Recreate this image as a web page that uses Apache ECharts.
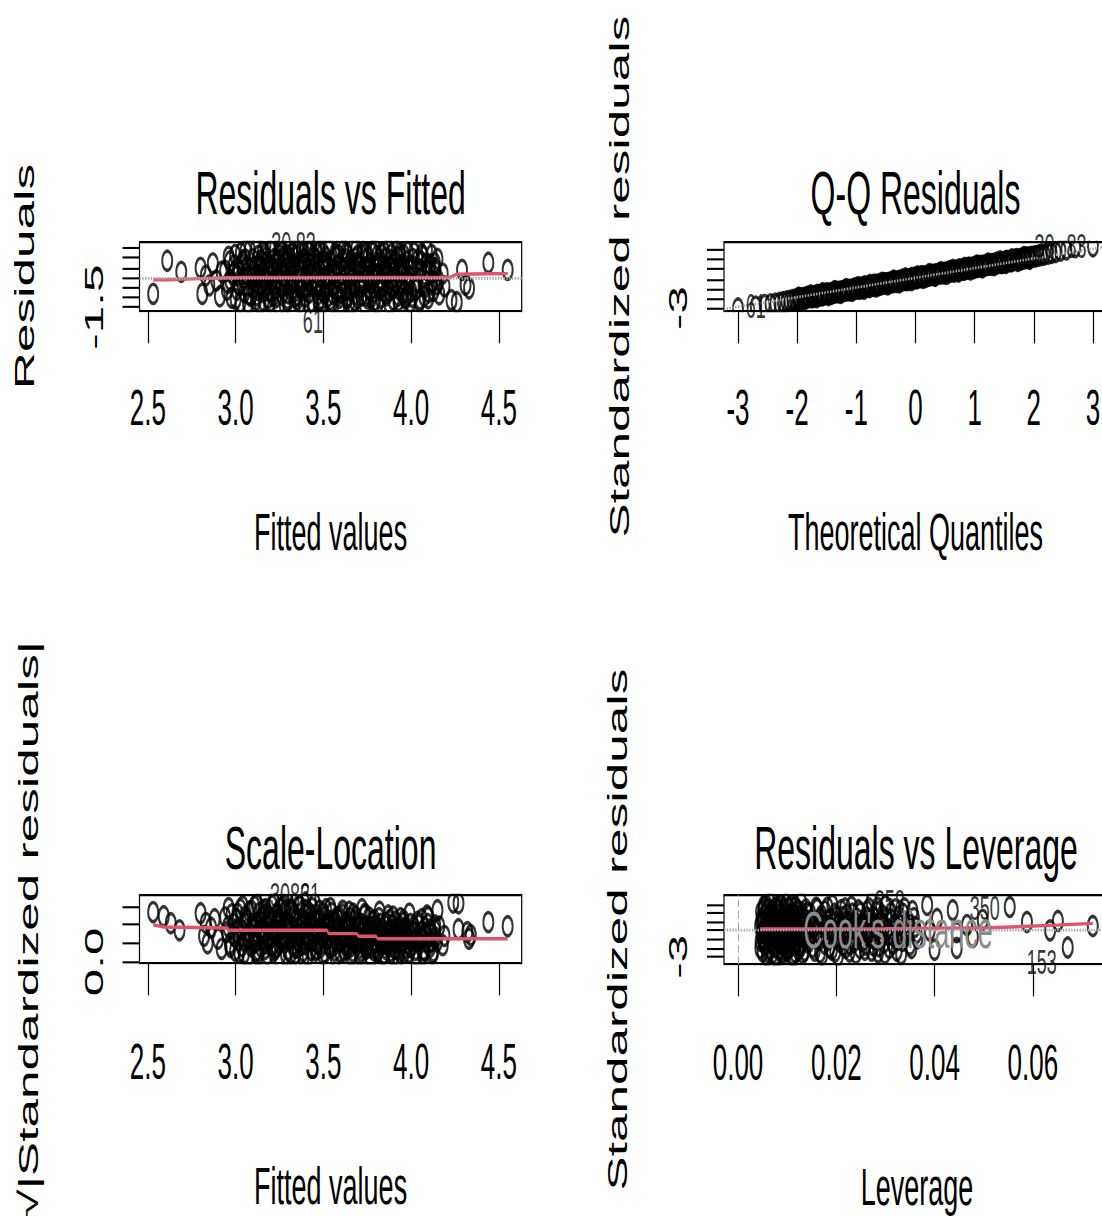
<!DOCTYPE html>
<html><head><meta charset="utf-8">
<script src="https://cdn.jsdelivr.net/npm/echarts@6/dist/echarts.min.js"></script>
<style>
html,body{margin:0;padding:0;background:#fff;width:1102px;height:1216px}
#wrap{position:relative;width:1102px;height:1216px;overflow:hidden;background:#fff}
#c{position:absolute;left:0;top:0;width:1102px;height:640px;transform:scaleY(1.9);transform-origin:0 0}
</style>
</head><body><div id="wrap"><div id="c"></div></div>
<script>
// ---------- data ----------
const fittedTicks = [2.5, 3.0, 3.5, 4.0, 4.5];
const residTicks = [-1.5, -1, -0.5, 0, 0.5, 1, 1.5];
const residTickLabels = [-1.5];
const quantTicks = [-3, -2, -1, 0, 1, 2, 3];
const stdTicks = [-3, -2, -1, 0, 1, 2, 3];
const stdTickLabels = [-3];
const sqrtTicks = [0, 0.5, 1, 1.5];
const sqrtTickLabels = [0];
const levTicks = [0, 0.02, 0.04, 0.06];

const panelTitles = ['Residuals vs Fitted', 'Q-Q Residuals', 'Scale-Location', 'Residuals vs Leverage'];
const xNames = ['Fitted values', 'Theoretical Quantiles', 'Fitted values', 'Leverage'];
const yNames = ['Residuals', 'Standardized residuals', '\u221A|Standardized residuals|', 'Standardized residuals'];

// Residuals vs Fitted: [fitted, residual]
const residVsFitted = [
[2.53,-0.83],[2.61,0.85],[2.69,0.29],[2.80,0.49],[2.81,-0.83],[2.83,0.10],[2.85,-0.40],[2.87,0.72],[2.89,-0.15],[2.91,-0.95],[2.92,0.30],
[2.94,0.35],[2.95,-0.62],[2.96,1.05],[2.97,-0.15],[2.99,0.62],[3.00,-1.10],[3.01,0.10],[3.02,-0.40],[3.03,1.25],[3.04,0.85],[3.05,-0.75],[3.06,0.20],[3.07,-1.30],[3.08,1.40],[3.09,-0.05],[3.10,-0.55],[3.11,0.55],[3.12,-0.90],[3.13,1.10],[3.14,0.00],[3.15,-0.30],[3.16,-1.20],[3.17,0.75],[3.18,0.30],[3.19,-0.68],[3.20,1.35],[3.21,-0.15],[3.22,0.95],[3.23,-1.00],[3.24,0.45],[3.25,1.52],[3.26,-0.45],[3.27,0.15],[3.28,-1.40],[3.29,1.15],[3.30,-0.80],[3.31,0.60],[3.32,0.05],[3.33,-0.25],[3.34,1.45],[3.35,-1.15],[3.36,0.80],[3.37,0.35],[3.38,-0.60],[3.39,1.25],[3.40,-0.05],[3.41,0.50],[3.42,-1.35],[3.43,1.60],[3.44,-0.30],[3.45,0.95],[3.46,0.20],[3.47,-0.85],[3.48,1.40],[3.49,-1.10],[3.50,0.65],[3.51,0.00],[3.52,-0.50],[3.53,1.65],[3.54,-0.20],[3.55,-1.25],[3.56,0.40],[3.57,1.05],[3.58,-0.70],[3.59,-1.45],[3.60,0.15],[3.61,0.85],[3.62,-0.35],[3.63,1.30],[3.64,-0.95],[3.65,0.55],[3.66,-0.10],[3.67,1.50],[3.68,-1.20],[3.69,0.75],[3.70,0.25],[3.71,-0.55],[3.72,1.15],[3.73,-0.15],[3.74,0.95],[3.75,-1.05],[3.76,0.40],[3.77,-0.30],[3.78,1.35],[3.79,-0.75],[3.80,0.10],[3.81,-1.30],[3.82,0.70],[3.83,1.20],[3.84,-0.45],[3.85,0.30],[3.86,-0.90],[3.87,1.45],[3.88,0.55],[3.89,-0.10],[3.90,-1.15],[3.91,0.85],[3.92,0.20],[3.93,-0.60],[3.94,1.10],[3.95,-0.35],[3.96,0.60],[3.97,-1.00],[3.98,1.30],[3.99,0.05],[4.00,-0.70],[4.01,0.95],[4.03,-0.25],[4.04,0.45],[4.05,-1.10],[4.06,1.20],[4.07,-0.40],[4.08,0.15],[4.09,1.40],[4.10,-0.75],[4.11,0.65],[4.12,-0.20],[4.14,0.30],[4.15,0.95],[4.16,-0.85],[4.18,0.20],[4.19,-0.45],
[4.23,-1.15],[4.26,-1.25],[4.29,0.39],[4.31,-0.37],[4.33,-0.55],[4.44,0.75],[4.55,0.39],
[3.17,1.70],[3.31,1.72]
];
const residVsFittedCore = [
[3.105,0.32],[3.125,-0.62],[3.145,0.88],[3.165,-0.05],[3.185,-1.05],[3.205,0.58],[3.225,-0.32],[3.245,1.18],[3.265,-0.88],[3.285,0.42],[3.305,1.02],[3.325,-0.58],[3.345,0.22],[3.365,-1.28],[3.385,0.92],[3.405,-0.42],[3.425,0.68],[3.445,-0.12],[3.465,1.22],[3.485,-0.62],[3.505,0.38],[3.525,-0.98],[3.545,0.82],[3.565,-0.38],[3.585,1.12],[3.605,-0.78],[3.625,0.48],[3.645,0.02],[3.665,-1.32],[3.685,0.98],[3.705,-0.48],[3.725,0.28],[3.745,-0.88],[3.765,0.72],[3.785,-0.08],[3.805,1.08],[3.825,-0.62],[3.845,0.42],[3.865,-0.28],[3.885,0.88],[3.905,0.32],[3.925,-0.92],[3.945,0.62],[3.965,-0.18],
[3.015,0.48],[3.035,-0.22],[3.055,0.92],[3.075,-0.85],[3.095,0.12],[3.115,-1.15],[3.135,0.62],[3.155,1.32],[3.175,-0.48],[3.195,0.05],[3.215,-0.95],[3.235,0.78],[3.255,-0.18],[3.275,1.05],[3.295,-1.22],[3.315,0.35],[3.335,-0.72],[3.355,1.48],[3.375,-0.02],[3.395,-0.98],[3.415,1.32],[3.435,0.25],[3.455,-0.55],[3.475,0.72],[3.495,-1.38],[3.515,1.02],[3.535,0.12],[3.555,-0.82],[3.575,0.58],[3.595,-0.25],[3.615,1.42],[3.635,-1.05],[3.655,0.32],[3.675,-0.45],[3.695,1.12],[3.715,-0.92],[3.735,0.52],[3.755,-0.05],[3.775,1.28],[3.795,-1.18],[3.815,0.22],[3.835,-0.35],[3.855,0.98],[3.875,-0.68],[3.895,0.45],[3.915,-0.25],[3.935,1.25],[3.955,-0.82],[3.975,0.15],[3.995,-1.25],[4.015,0.55],[4.035,-0.55],[4.055,0.82],[4.075,-0.95],[4.095,0.35],[4.115,-0.35],[4.135,0.72],[4.155,-0.15],
[3.112,0.05],[3.142,-0.42],[3.172,1.02],[3.202,-0.72],[3.232,0.22],[3.262,0.62],[3.292,-0.35],[3.322,1.22],[3.352,-0.92],[3.382,0.48],[3.412,-0.22],[3.442,1.08],[3.472,-1.18],[3.502,0.85],[3.532,-0.45],[3.562,0.18],[3.592,-1.02],[3.622,0.95],[3.652,-0.62],[3.682,0.42],[3.712,-0.28],[3.742,1.22],[3.772,-1.02],[3.802,0.58],[3.832,-0.12],[3.862,0.32],[3.892,-0.48],[3.922,1.02],[3.952,0.28],[3.982,-0.85],
[2.957,-0.28],[2.967,0.82],[2.977,-1.02],[2.987,0.18],[2.997,1.15],[3.007,-0.62],[3.017,0.32],[3.027,-1.25],[3.037,0.68],[3.047,-0.05],[3.057,1.38],[3.067,-0.42],[3.077,0.45],[3.087,-0.95],[3.097,0.95],[3.107,-0.28],[3.117,1.48],[3.127,0.12],[3.137,-1.35],[3.147,0.55],[3.157,-0.72],[3.167,1.18],[3.177,-0.12],[3.187,0.65],[3.197,-1.22],[3.207,1.55],[3.217,0.38],[3.227,-0.62],[3.237,0.92],[3.247,-1.42],[3.257,0.28],[3.267,1.32],[3.277,-0.38],[3.287,0.78],[3.297,-1.08],[3.307,1.58],[3.317,-0.15],[3.327,0.58],[3.337,-0.98],[3.347,1.12],[3.357,0.42],[3.367,-0.52],[3.377,1.52],[3.387,-1.45],[3.397,0.72],[3.407,0.15],[3.417,-0.78],[3.427,1.35],[3.437,-1.25],[3.447,0.48],[3.457,1.58],[3.467,-0.42],[3.477,0.05],[3.487,-1.38],[3.497,1.28],[3.507,-0.82],[3.517,0.55],[3.527,1.48],[3.537,-1.15],[3.547,0.25],[3.557,-0.38],[3.567,1.22],[3.577,-0.92],[3.587,0.62],[3.597,1.52],[3.607,-1.40],[3.617,0.35],[3.627,-0.62],[3.637,1.18],[3.647,-1.28],[3.657,0.85],[3.667,0.15],[3.677,-0.85],[3.687,1.45],[3.697,-1.05],[3.707,0.62],[3.717,-0.25],[3.727,1.32],[3.737,-1.38],[3.747,0.45],[3.757,1.02],[3.767,-0.68],[3.777,0.08],[3.787,-1.22],[3.797,1.40],[3.807,-0.42],[3.817,0.95],[3.827,-1.02],[3.837,0.58],[3.847,1.28],[3.857,-0.78],[3.867,0.12],[3.877,-1.35],[3.887,1.18],[3.897,-0.55],[3.907,0.72],[3.917,1.35],[3.927,-1.18],[3.937,0.38],[3.947,-0.48],[3.957,1.15],[3.967,-1.08],[3.977,0.82],[3.987,-0.22],[3.997,0.55],[4.007,-0.98],[4.017,1.25],[4.027,-0.62],[4.037,0.88],[4.047,-1.22],[4.057,0.38],[4.067,1.08],[4.077,-0.52],[4.087,0.72],[4.097,-1.05],[4.107,0.25],[4.117,1.15],[4.127,-0.68],[4.137,0.48],[4.147,-0.35]
];
const residSmooth = [[2.53,-0.12],[2.62,-0.11],[2.75,-0.07],[2.90,-0.02],[3.05,0.0],[3.50,0.0],[4.00,0.0],[4.22,0.0],[4.26,0.17],[4.44,0.19],[4.55,0.20]];
const residIds = [['30',3.26,1.71],['83',3.40,1.72],['61',3.44,-2.20]];

// Normal Q-Q: [theoretical quantile, standardized residual]
const qqPoints = [
[-3.00,-3.05],[-2.70,-2.85],[-2.55,-2.70],[-2.45,-2.62],[-2.37,-2.55],[-2.30,-2.48],[-2.24,-2.40],[-2.18,-2.33],[-2.13,-2.27],[-2.08,-2.20],[-2.04,-2.15],
[-2.00,-2.10],[-1.96,-2.06],[-1.92,-2.02],[-1.88,-1.97],[-1.84,-1.92],[-1.80,-1.89],[-1.76,-1.84],[-1.72,-1.79],[-1.68,-1.76],[-1.64,-1.70],[-1.60,-1.66],[-1.56,-1.63],[-1.52,-1.57],[-1.48,-1.53],[-1.44,-1.49],[-1.40,-1.44],[-1.36,-1.40],[-1.32,-1.36],[-1.28,-1.31],[-1.24,-1.26],[-1.20,-1.23],[-1.16,-1.18],[-1.12,-1.13],[-1.08,-1.10],[-1.04,-1.04],[-1.00,-1.00],[-0.96,-0.97],[-0.92,-0.91],[-0.88,-0.87],[-0.84,-0.83],[-0.80,-0.78],[-0.76,-0.74],[-0.72,-0.70],[-0.68,-0.65],[-0.64,-0.60],[-0.60,-0.57],[-0.56,-0.52],[-0.52,-0.47],[-0.48,-0.44],[-0.44,-0.38],[-0.40,-0.34],[-0.36,-0.31],[-0.32,-0.25],[-0.28,-0.21],[-0.24,-0.17],[-0.20,-0.12],[-0.16,-0.08],[-0.12,-0.04],[-0.08,0.01],[-0.04,0.06],[0.00,0.10],[0.04,0.14],[0.08,0.18],[0.12,0.23],[0.16,0.28],[0.20,0.31],[0.24,0.36],[0.28,0.41],[0.32,0.44],[0.36,0.50],[0.40,0.54],[0.44,0.57],[0.48,0.63],[0.52,0.67],[0.56,0.71],[0.60,0.76],[0.64,0.81],[0.68,0.85],[0.72,0.88],[0.76,0.94],[0.80,0.98],[0.84,1.02],[0.88,1.06],[0.92,1.11],[0.96,1.16],[1.00,1.20],[1.04,1.23],[1.08,1.29],[1.12,1.33],[1.16,1.37],[1.20,1.42],[1.24,1.47],[1.28,1.51],[1.32,1.54],[1.36,1.60],[1.40,1.64],[1.44,1.67],[1.48,1.73],[1.52,1.78],[1.56,1.82],[1.60,1.85],[1.64,1.90],[1.68,1.96],[1.72,1.99],[1.76,2.04],[1.80,2.09],[1.84,2.12],[1.88,2.17],[1.92,2.22],[1.96,2.26],[2.00,2.30],
[2.04,2.35],[2.08,2.40],[2.13,2.46],[2.18,2.52],[2.24,2.60],[2.30,2.68],[2.37,2.78],[2.45,2.92],[2.55,3.05],[2.70,3.28],[3.00,3.36]
];
const qqPointsCore = [
[-1.98,-2.02],[-1.90,-2.06],[-1.82,-1.84],[-1.74,-1.89],[-1.66,-1.66],[-1.58,-1.70],[-1.50,-1.49],[-1.42,-1.53],[-1.34,-1.31],[-1.26,-1.36],[-1.18,-1.13],[-1.10,-1.18],[-1.02,-0.97],[-0.94,-1.00],[-0.86,-0.78],[-0.78,-0.83],[-0.70,-0.60],[-0.62,-0.65],[-0.54,-0.44],[-0.46,-0.47],[-0.38,-0.25],[-0.30,-0.31],[-0.22,-0.08],[-0.14,-0.12],[-0.06,0.10],[0.02,0.06],[0.10,0.28],[0.18,0.23],[0.26,0.44],[0.34,0.41],[0.42,0.63],[0.50,0.57],[0.58,0.81],[0.66,0.76],[0.74,0.98],[0.82,0.94],[0.90,1.16],[0.98,1.11],[1.06,1.33],[1.14,1.29],[1.22,1.51],[1.30,1.47],[1.38,1.67],[1.46,1.64],[1.54,1.85],[1.62,1.82],[1.70,2.04],[1.78,1.99],[1.86,2.22],[1.94,2.17],
[-1.97,-1.93],[-1.87,-2.08],[-1.77,-1.70],[-1.67,-1.88],[-1.57,-1.48],[-1.47,-1.66],[-1.37,-1.27],[-1.27,-1.44],[-1.17,-1.05],[-1.07,-1.22],[-0.97,-0.84],[-0.87,-1.00],[-0.77,-0.62],[-0.67,-0.78],[-0.57,-0.40],[-0.47,-0.56],[-0.37,-0.18],[-0.27,-0.34],[-0.17,0.04],[-0.07,-0.12],[0.03,0.26],[0.13,0.10],[0.23,0.48],[0.33,0.32],[0.43,0.70],[0.53,0.54],[0.63,0.92],[0.73,0.76],[0.83,1.14],[0.93,0.98],[1.03,1.36],[1.13,1.20],[1.23,1.58],[1.33,1.42],[1.43,1.80],[1.53,1.64],[1.63,2.02],[1.73,1.86],[1.83,2.24],[1.93,2.08]
];
const qqRefLine = [[-3.237,-3.12],[3.237,3.35]];
const qqIds = [['61',-2.70,-2.77],['30',2.18,3.34],['83',2.72,3.34]];

// Scale-Location: [fitted, sqrt(|standardized residual|)]
const scaleLoc = [
[2.53,1.34],[2.59,1.23],[2.63,1.04],[2.68,0.85],[2.80,1.31],[2.82,0.70],[2.83,1.05],[2.84,0.50],[2.86,0.92],[2.88,1.15],[2.90,0.62],[2.92,0.35],
[2.94,1.20],[2.95,0.80],[2.96,1.45],[2.97,0.40],[2.99,1.02],[3.00,0.65],[3.01,1.30],[3.02,0.25],[3.03,0.90],[3.04,1.50],[3.05,0.55],[3.06,1.12],[3.07,0.15],[3.08,0.78],[3.09,1.38],[3.10,0.48],[3.11,0.98],[3.12,1.55],[3.13,0.30],[3.14,0.85],[3.15,1.20],[3.16,0.60],[3.17,1.42],[3.18,0.20],[3.19,0.95],[3.20,1.10],[3.21,0.42],[3.22,1.60],[3.23,0.72],[3.24,1.28],[3.25,0.10],[3.26,0.88],[3.27,1.48],[3.28,0.52],[3.29,1.05],[3.30,0.32],[3.31,1.35],[3.32,0.68],[3.33,1.18],[3.34,0.22],[3.35,0.92],[3.36,1.52],[3.37,0.45],[3.38,1.08],[3.39,0.75],[3.40,1.40],[3.41,0.15],[3.42,0.98],[3.43,1.25],[3.44,0.58],[3.45,1.58],[3.46,0.35],[3.47,0.85],[3.48,1.15],[3.49,0.50],[3.50,1.32],[3.51,0.25],[3.52,0.95],[3.53,0.70],[3.54,1.45],[3.55,0.40],[3.56,1.02],[3.57,0.12],[3.58,0.82],[3.59,1.22],[3.60,0.55],[3.61,1.38],[3.62,0.30],[3.63,0.90],[3.64,1.10],[3.65,0.62],[3.66,0.18],[3.67,1.30],[3.68,0.78],[3.69,0.45],[3.70,1.05],[3.71,0.28],[3.72,1.42],[3.73,0.65],[3.74,0.95],[3.75,0.38],[3.76,1.20],[3.77,0.10],[3.78,0.80],[3.79,1.12],[3.80,0.52],[3.81,0.30],[3.82,1.35],[3.83,0.70],[3.84,0.20],[3.85,0.98],[3.86,0.58],[3.87,1.25],[3.88,0.42],[3.89,0.85],[3.90,0.15],[3.91,1.08],[3.92,0.62],[3.93,0.35],[3.94,1.18],[3.95,0.75],[3.96,0.25],[3.97,0.92],[3.98,0.50],[3.99,1.30],[4.00,0.40],[4.01,0.82],[4.03,0.18],[4.04,1.00],[4.05,0.60],[4.06,1.15],[4.07,0.32],[4.08,0.72],[4.09,1.25],[4.10,0.48],[4.11,0.88],[4.12,0.22],[4.14,0.65],[4.15,1.39],[4.16,0.95],[4.18,0.45],[4.19,0.70],
[4.24,1.60],[4.27,1.58],[4.27,0.88],[4.32,0.80],[4.33,0.62],[4.34,0.72],[4.44,1.07],[4.55,0.96],
[3.17,1.79],[3.29,1.80],[3.35,1.77]
];
const scaleLocCore = [
[3.105,0.70],[3.125,1.00],[3.145,0.40],[3.165,1.25],[3.185,0.62],[3.205,0.85],[3.225,0.35],[3.245,1.05],[3.265,0.58],[3.285,1.38],[3.305,0.80],[3.325,0.45],[3.345,1.12],[3.365,0.68],[3.385,0.28],[3.405,0.90],[3.425,0.55],[3.445,1.20],[3.465,0.75],[3.485,0.40],[3.505,1.00],[3.525,0.62],[3.545,0.85],[3.565,0.30],[3.585,1.15],[3.605,0.70],[3.625,0.48],[3.645,0.95],[3.665,0.58],[3.685,1.22],[3.705,0.38],[3.725,0.82],[3.745,0.60],[3.765,0.95],[3.785,0.32],[3.805,0.75],[3.825,1.02],[3.845,0.50],[3.865,0.78],[3.885,0.28],[3.905,0.68],[3.925,0.92],[3.945,0.45],[3.965,0.72],
[3.015,0.88],[3.035,0.42],[3.055,1.22],[3.075,0.62],[3.095,1.02],[3.115,0.28],[3.135,1.32],[3.155,0.75],[3.175,0.50],[3.195,1.18],[3.215,0.82],[3.235,0.40],[3.255,1.45],[3.275,0.68],[3.295,0.95],[3.315,0.22],[3.335,1.28],[3.355,0.78],[3.375,1.02],[3.395,0.48],[3.415,1.35],[3.435,0.85],[3.455,0.30],[3.475,1.08],[3.495,0.65],[3.515,1.42],[3.535,0.42],[3.555,0.90],[3.575,1.20],[3.595,0.55],[3.615,0.82],[3.635,0.35],[3.655,1.18],[3.675,0.72],[3.695,0.95],[3.715,0.52],[3.735,1.25],[3.755,0.78],[3.775,0.40],[3.795,1.00],[3.815,0.62],[3.835,0.88],[3.855,0.35],[3.875,1.12],[3.895,0.55],[3.915,0.80],[3.935,0.25],[3.955,1.05],[3.975,0.68],[3.995,0.40],[4.015,0.95],[4.035,0.58],[4.055,0.80],[4.075,0.30],[4.095,1.02],[4.115,0.55],[4.135,0.85],
[3.112,0.55],[3.142,1.12],[3.172,0.82],[3.202,0.45],[3.232,1.00],[3.262,1.22],[3.292,0.60],[3.322,0.92],[3.352,0.38],[3.382,1.15],[3.412,0.72],[3.442,0.95],[3.472,0.48],[3.502,0.82],[3.532,1.10],[3.562,0.62],[3.592,0.92],[3.622,0.68],[3.652,0.40],[3.682,0.88],[3.712,0.62],[3.742,0.35],[3.772,0.82],[3.802,0.95],[3.832,0.45],[3.862,0.65],[3.892,1.00],[3.922,0.50],[3.952,0.85],[3.982,0.62],
[2.957,0.95],[2.967,0.48],[2.977,1.28],[2.987,0.72],[2.997,0.30],[3.007,1.15],[3.017,0.58],[3.027,1.42],[3.037,0.85],[3.047,0.22],[3.057,1.05],[3.067,0.65],[3.077,1.35],[3.087,0.42],[3.097,0.92],[3.107,1.50],[3.117,0.55],[3.127,0.18],[3.137,1.08],[3.147,0.78],[3.157,1.40],[3.167,0.35],[3.177,0.98],[3.187,1.25],[3.197,0.62],[3.207,1.52],[3.217,0.28],[3.227,0.88],[3.237,1.32],[3.247,0.50],[3.257,1.12],[3.267,0.72],[3.277,1.55],[3.287,0.20],[3.297,1.02],[3.307,0.62],[3.317,1.42],[3.327,0.85],[3.337,0.38],[3.347,1.18],[3.357,0.55],[3.367,1.50],[3.377,0.95],[3.387,0.12],[3.397,1.28],[3.407,0.68],[3.417,1.05],[3.427,0.32],[3.437,1.45],[3.447,0.78],[3.457,1.12],[3.467,0.48],[3.477,1.38],[3.487,0.88],[3.497,0.22],[3.507,1.22],[3.517,0.62],[3.527,1.02],[3.537,0.38],[3.547,1.32],[3.557,0.72],[3.567,1.10],[3.577,0.50],[3.587,0.92],[3.597,0.25],[3.607,1.28],[3.617,0.65],[3.627,1.05],[3.637,0.45],[3.647,1.35],[3.657,0.82],[3.667,0.28],[3.677,1.12],[3.687,0.55],[3.697,0.92],[3.707,0.18],[3.717,1.02],[3.727,0.62],[3.737,1.30],[3.747,0.42],[3.757,0.85],[3.767,0.15],[3.777,1.08],[3.787,0.58],[3.797,0.88],[3.807,0.30],[3.817,1.18],[3.827,0.52],[3.837,0.78],[3.847,0.22],[3.857,1.05],[3.867,0.45],[3.877,0.85],[3.887,0.60],[3.897,1.22],[3.907,0.35],[3.917,0.72],[3.927,0.12],[3.937,0.95],[3.947,0.55],[3.957,1.12],[3.967,0.38],[3.977,0.82],[3.987,0.25],[3.997,1.02],[4.007,0.58],[4.017,0.78],[4.027,0.32],[4.037,1.08],[4.047,0.48],[4.057,0.68],[4.067,0.20],[4.077,0.92],[4.087,0.52],[4.097,1.20],[4.107,0.40],[4.117,0.75],[4.127,0.28],[4.137,0.98],[4.147,0.55]
];
const scaleSmooth = [[2.53,1.00],[2.59,0.94],[2.95,0.91],[2.96,0.85],[3.52,0.85],[3.53,0.76],[3.69,0.76],[3.70,0.69],[3.80,0.69],[3.81,0.62],[4.55,0.62]];
const scaleIds = [['30',3.253,1.81],['83',3.367,1.81],['61',3.424,1.81]];

// Residuals vs Leverage: [leverage, standardized residual]
const levPoints = [
[0.0045,0.5],[0.0046,-1.2],[0.0047,2.1],[0.0048,-0.3],[0.0049,1.4],[0.0050,-2.4],[0.0051,0.9],[0.0052,-0.8],[0.0053,2.8],[0.0054,0.1],[0.0055,-1.7],[0.0056,1.8],[0.0057,-0.5],[0.0058,0.7],[0.0059,-2.9],[0.0060,2.4],[0.0061,-1.0],[0.0062,0.3],[0.0063,1.1],[0.0064,-2.1],[0.0065,3.1],[0.0066,-0.2],[0.0067,1.6],[0.0068,-1.4],[0.0069,0.6],[0.0070,-2.6],[0.0071,2.0],[0.0072,-0.7],[0.0073,1.3],[0.0074,0.0],[0.0075,-1.9],[0.0076,2.6],[0.0077,-0.4],[0.0078,0.8],[0.0079,-3.0],[0.0080,1.9],[0.0081,-1.1],[0.0082,0.4],[0.0083,2.3],[0.0084,-2.2],[0.0085,1.0],[0.0086,-0.6],[0.0087,2.9],[0.0088,-1.5],[0.0089,0.2],[0.0090,1.5],[0.0091,-2.7],[0.0092,0.7],[0.0093,-0.1],[0.0094,2.2],[0.0095,-1.8],[0.0096,1.2],[0.0097,-0.9],[0.0098,3.0],[0.0099,-2.3],[0.0100,0.5],[0.0101,1.7],[0.0102,-1.3],[0.0103,0.0],[0.0104,2.5],[0.0105,-2.0],[0.0106,0.9],[0.0107,-0.5],[0.0108,1.4],[0.0109,-2.8],[0.0110,2.0],[0.0111,-0.8],[0.0112,0.3],[0.0113,1.8],[0.0114,-1.6],[0.0115,0.6],[0.0116,-2.5],[0.0117,2.7],[0.0118,-0.3],[0.0119,1.1],[0.0120,-1.2],[0.0121,0.1],[0.0122,2.1],[0.0123,-2.2],[0.0124,0.8],[0.0125,-0.7],[0.0126,1.6],[0.0127,-1.9],[0.0128,3.2],[0.0129,-0.2],[0.0130,0.9],[0.0132,-2.6],[0.0134,1.3],[0.0136,-1.0],[0.0138,2.4],[0.0140,0.2],
[0.0143,-1.4],[0.0147,1.9],[0.0150,-0.4],[0.0153,0.8],[0.0156,-2.3],[0.0159,2.6],[0.0162,0.0],[0.0165,-1.1],[0.0168,1.4],[0.0171,-2.8],[0.0174,0.5],[0.0177,2.2],[0.0180,-0.7],[0.0183,1.1],[0.0186,-1.9],[0.0189,0.3],[0.0192,2.9],[0.0195,-0.2],[0.0198,-2.4],[0.0201,1.6],[0.0204,0.6],[0.0207,-1.3],[0.0210,2.3],[0.0213,-0.5],[0.0216,0.9],[0.0219,-2.0],[0.0222,1.8],[0.0225,0.1],[0.0228,-1.6],[0.0231,2.7],[0.0234,-0.9],[0.0237,0.4],[0.0240,-2.6],[0.0243,1.3],[0.0246,-0.3],[0.0249,2.0],[0.0252,-1.2],[0.0255,0.7],[0.0258,-2.2],[0.0261,1.5],[0.0264,0.0],[0.0267,2.5],[0.0270,-0.8],[0.0273,1.0],[0.0276,-1.7],[0.0279,0.4],[0.0282,2.1],[0.0285,-2.5],[0.0288,0.8],[0.0291,-0.4],[0.0294,1.7],[0.0297,-1.4],[0.0300,2.8],[0.0304,0.2],[0.0308,-2.0],[0.0312,1.2],[0.0316,-0.6],[0.0320,2.4],[0.0324,-1.1],[0.0328,0.6],[0.0332,-2.7],[0.0336,1.9],[0.0340,-0.2],[0.0345,1.0],[0.0350,-1.6],[0.0355,2.2],[0.0360,0.4],[0.0365,-0.9],
[0.0385,2.9],[0.0390,0.0],[0.0400,-2.2],[0.0405,1.3],[0.0437,2.3],[0.0445,-0.2],[0.0445,-2.0],[0.0466,0.6],[0.0478,-0.75],[0.0498,1.2],
[0.0553,2.67],[0.0588,0.96],[0.0635,0.0],[0.0651,1.07],[0.0671,-1.95],[0.0722,0.5],[0.0272,3.23]
];
const levPointsCore = [
[0.00455,-2.0],[0.00475,1.0],[0.00495,-0.9],[0.00515,2.4],[0.00535,-1.4],[0.00555,0.3],[0.00575,2.9],[0.00595,-0.1],[0.00615,-2.5],[0.00635,1.7],[0.00655,-0.8],[0.00675,0.6],[0.00695,2.2],[0.00715,-1.6],[0.00735,0.9],[0.00755,-2.8],[0.00775,1.4],[0.00795,-0.3],[0.00815,2.7],[0.00835,-1.0],[0.00855,0.2],[0.00875,1.9],[0.00895,-2.4],[0.00915,1.1],[0.00935,-0.6],[0.00955,2.5],[0.00975,-1.5],[0.00995,0.4],[0.01015,-2.1],[0.01035,1.5],[0.01055,-0.2],[0.01075,2.8],[0.01095,-1.1],[0.01115,0.7],[0.01135,-2.9],[0.01155,1.8],[0.01175,-0.5],[0.01195,0.2],[0.01215,2.3],[0.01235,-1.8],[0.01255,1.0],[0.01275,-0.4],[0.01295,2.0],[0.01315,-1.3],[0.01335,0.5],[0.01355,-2.3],[0.01375,1.2],
[0.0141,2.0],[0.0145,-0.6],[0.0149,1.2],[0.0152,-1.9],[0.0155,0.3],[0.0158,-0.9],[0.0161,2.4],[0.0164,0.9],[0.0167,-2.5],[0.0170,1.7],[0.0173,-0.3],[0.0176,-1.5],[0.0179,0.6],[0.0182,2.6],[0.0185,-1.0],[0.0188,1.3],[0.0191,-2.2],[0.0194,0.1],[0.0197,1.9],[0.0200,-0.8],[0.0203,-2.9],[0.0206,0.8],[0.0209,-0.1],[0.0212,1.5],[0.0215,-1.7],[0.0218,2.5],[0.0221,-0.6],[0.0224,1.0],[0.0227,-2.4],[0.0230,0.3],[0.0233,1.9],[0.0236,-1.3],[0.0239,0.9],[0.0242,-0.4],[0.0245,2.3],[0.0248,-2.0],[0.0251,0.5],[0.0254,-0.9],[0.0257,1.2],[0.0260,-1.6],[0.0263,2.2],[0.0266,-0.3],[0.0269,0.8],[0.0272,-2.3],[0.0275,1.6],[0.0278,-1.0],[0.0281,0.2],[0.0284,2.6],[0.0287,-1.8],[0.0290,1.1],[0.0293,-0.7],[0.0296,0.4],[0.0299,-2.6],[0.0303,1.4],[0.0307,-0.5],[0.0311,2.0],[0.0315,-1.5],[0.0319,0.7],[0.0323,-2.3],[0.0327,1.6],[0.0331,0.0],[0.0335,-1.2],[0.0339,2.5],[0.0343,-0.6],[0.0348,0.9],[0.0353,-2.0],[0.0358,1.4],[0.0363,-0.3]
];
const levSmooth = [[0.0045,0.16],[0.0300,0.20],[0.0513,0.30],[0.0649,0.60],[0.0722,0.80]];
const levIds = [['358',0.0309,3.23],['350',0.0502,2.55],['153',0.0618,-3.60]];
const cooksLegend = "Cook's distance";

// ---------- layout / styling ----------
const FONT = '"Liberation Sans", Arial, Helvetica, sans-serif';
const G = [
  {left: 139.5, top: 127.4, width: 382.2, height: 36.3},
  {left: 724, top: 127.4, width: 383, height: 36.3},
  {left: 139.5, top: 471.1, width: 382.2, height: 35.8},
  {left: 724, top: 471.1, width: 386, height: 36.3}
];
const XR = [[2.452, 4.63], [-3.237, 3.237], [2.452, 4.63], [-0.00285, 0.0757]];
const YR = [[-1.70, 1.80], [-3.31, 3.80], [-0.035, 1.80], [-3.83, 4.02]];
const XT = [fittedTicks, quantTicks, fittedTicks, levTicks];
const XDEC = [1, 0, 1, 2];
const YT = [residTicks, stdTicks, sqrtTicks, stdTicks];
const YL = [residTickLabels, stdTickLabels, sqrtTickLabels, stdTickLabels];
const YDEC = [1, 0, 1, 0];
const XMARGIN = [38, 38, 39, 39];
const XGAP = [103, 103, 104, 104];
const YGAP = [101, 91, 97, 93];
const RED = '#DF536B';

const grid = G.map(g => Object.assign({show: true, borderColor: '#000', borderWidth: 1.2,
  backgroundColor: 'transparent', containLabel: false, outerBoundsMode: 'none'}, g));

const xAxis = G.map((g, i) => ({
  type: 'value', gridIndex: i, min: XR[i][0], max: XR[i][1], position: 'bottom', z: 4,
  axisLine: {show: false, onZero: false},
  axisTick: {show: true, inside: false, length: 17, customValues: XT[i], lineStyle: {color: '#000', width: 1.2}},
  axisLabel: {show: true, customValues: XT[i], formatter: v => Number(v).toFixed(XDEC[i]), margin: XMARGIN[i],
    color: '#000', fontSize: 26, fontFamily: FONT},
  splitLine: {show: false},
  name: xNames[i], nameLocation: 'middle', nameGap: XGAP[i], nameMoveOverlap: false,
  nameTextStyle: {color: '#000', fontSize: 27, fontFamily: FONT}
}));

const yAxis = G.map((g, i) => ({
  type: 'value', gridIndex: i, min: YR[i][0], max: YR[i][1], position: 'left', z: 4,
  axisLine: {show: false, onZero: false},
  axisTick: {show: true, inside: false, length: 17, customValues: YT[i], lineStyle: {color: '#000', width: 1.1}},
  axisLabel: {show: true, customValues: YL[i], rotate: 90, formatter: v => Number(v).toFixed(YDEC[i]), margin: 33,
    color: '#000', fontSize: 26, fontFamily: FONT},
  splitLine: {show: false},
  name: yNames[i], nameLocation: 'middle', nameGap: YGAP[i], nameMoveOverlap: false,
  nameTextStyle: {color: '#000', fontSize: 27, fontFamily: FONT}
}));

function pointsSeries(i, data) {
  return {type: 'scatter', xAxisIndex: i, yAxisIndex: i, data, symbol: 'circle', symbolSize: 10,
    itemStyle: {color: 'rgba(0,0,0,0)', borderColor: '#000', borderWidth: 1.9},
    silent: true, clip: false, z: 2, animation: false};
}
function lineSeries(i, data, color, type, width, markData) {
  const s = {type: 'line', xAxisIndex: i, yAxisIndex: i, data, symbol: 'none', showSymbol: false,
    lineStyle: {color, type, width}, silent: true, z: 3, animation: false};
  if (markData) {
    s.markLine = {symbol: ['none', 'none'], silent: true, animation: false, label: {show: false},
      data: markData};
  }
  return s;
}
function idSeries(i, ids) {
  return {type: 'scatter', xAxisIndex: i, yAxisIndex: i, symbol: 'circle', symbolSize: 1,
    itemStyle: {color: 'rgba(0,0,0,0)'}, silent: true, clip: false, z: 5, animation: false,
    data: ids.map(d => ({name: d[0], value: [d[1], d[2]]})),
    label: {show: true, formatter: '{b}', position: 'inside', color: '#000', fontSize: 18, fontFamily: FONT}};
}
const zeroDotted = {yAxis: 0, lineStyle: {color: '#a8a8a8', type: 'dotted', width: 1.4}};
const zeroDashedV = {xAxis: 0, lineStyle: {color: '#a8a8a8', type: 'dashed', width: 1}};

const series = [
  pointsSeries(0, residVsFitted.concat(residVsFittedCore)),
  lineSeries(0, residSmooth, RED, 'solid', 1.8, [zeroDotted]),
  idSeries(0, residIds),
  pointsSeries(1, qqPoints.concat(qqPointsCore)),
  lineSeries(1, qqRefLine, '#a8a8a8', 'dotted', 1.4),
  idSeries(1, qqIds),
  pointsSeries(2, scaleLoc.concat(scaleLocCore)),
  lineSeries(2, scaleSmooth, RED, 'solid', 1.8),
  idSeries(2, scaleIds),
  pointsSeries(3, levPoints.concat(levPointsCore)),
  lineSeries(3, levSmooth, RED, 'solid', 1.8, [zeroDotted, zeroDashedV]),
  idSeries(3, levIds)
];

const titleCenters = [[330.6, 101.6], [915.5, 101.6], [330.6, 446.3], [916, 446.3]];
const title = panelTitles.map((t, i) => ({
  text: t, left: titleCenters[i][0], top: titleCenters[i][1], textAlign: 'center', textVerticalAlign: 'middle',
  padding: 0, textStyle: {color: '#000', fontSize: 32, fontWeight: 'normal', fontFamily: FONT}
}));
title.push({text: cooksLegend, left: 898, top: 489.5, textAlign: 'center', textVerticalAlign: 'middle', padding: 0, z: 6,
  textStyle: {color: '#8c8c8c', fontSize: 27, fontWeight: 'normal', fontFamily: FONT}});

// white bands just outside each plot box, emulating the plot-region clipping of the symbols
const masks = [];
G.forEach(g => {
  const w = Math.min(g.width, 1102 - g.left);
  masks.push({type: 'rect', silent: true, z: 3, shape: {x: g.left, y: g.top - 8, width: w, height: 7.3}, style: {fill: '#fff'}});
  masks.push({type: 'rect', silent: true, z: 3, shape: {x: g.left, y: g.top + g.height + 0.7, width: w, height: 7.3}, style: {fill: '#fff'}});
});

const chart = echarts.init(document.getElementById('c'), null, {renderer: 'svg'});
chart.setOption({
  animation: false,
  backgroundColor: '#fff',
  title, grid, xAxis, yAxis, series,
  graphic: {elements: masks},
  tooltip: {show: false}
});
</script>
</body></html>
